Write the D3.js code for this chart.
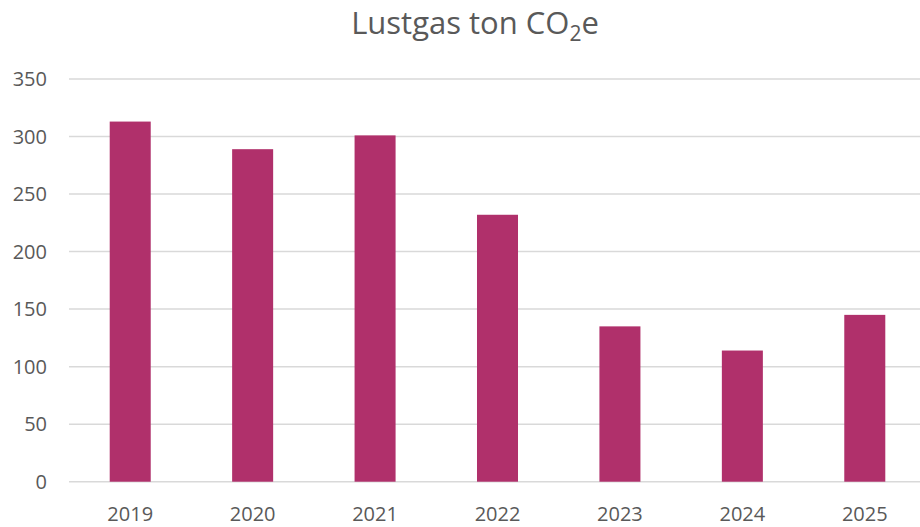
<!DOCTYPE html>
<html>
<head>
<meta charset="utf-8">
<script src="https://cdn.jsdelivr.net/npm/d3@7"></script>
<style>
  body { margin: 0; background: #fff; }
  svg { display: block; font-family: "Open Sans", "Liberation Sans", sans-serif; }
</style>
</head>
<body>
<svg id="chart"></svg>
<script>
let years = ['2019', '2020', '2021', '2022', '2023', '2024', '2025'];
let values = [313, 289, 301, 232, 135, 114, 145];
let yTicks = [0, 50, 100, 150, 200, 250, 300, 350];

let width = 920;
let height = 527;
let margin = {top: 79, right: -6, bottom: 45, left: 69};

let svg = d3.select('#chart')
    .attr('width', width)
    .attr('height', height);

let x = d3.scaleBand()
    .domain(years)
    .range([margin.left, width - margin.right])
    .paddingInner(0.665)
    .paddingOuter(0.3325);

let y = d3.scaleLinear()
    .domain([0, 350])
    .range([height - margin.bottom - 0.3, margin.top]);

// gridlines
svg.append('g')
    .selectAll('line')
    .data(yTicks)
    .join('line')
    .attr('x1', margin.left)
    .attr('x2', width)
    .attr('y1', d => y(d))
    .attr('y2', d => y(d))
    .attr('stroke', '#d9d9d9')
    .attr('stroke-width', 1.5);

// y labels
svg.append('g')
    .selectAll('text')
    .data(yTicks)
    .join('text')
    .attr('x', 47)
    .attr('y', d => y(d))
    .attr('dy', '0.35em')
    .attr('text-anchor', 'end')
    .attr('font-size', 20)
    .attr('fill', '#595959')
    .text(d => d);

// bars
svg.append('g')
    .selectAll('rect')
    .data(years)
    .join('rect')
    .attr('x', d => x(d))
    .attr('width', x.bandwidth())
    .attr('y', (d, i) => y(values[i]))
    .attr('height', (d, i) => y(0) - y(values[i]))
    .attr('fill', '#b0306b');

// x labels
svg.append('g')
    .selectAll('text')
    .data(years)
    .join('text')
    .attr('x', d => x(d) + x.bandwidth() / 2)
    .attr('y', 521)
    .attr('text-anchor', 'middle')
    .attr('font-size', 20)
    .attr('fill', '#595959')
    .text(d => d);

// title
let title = svg.append('text')
    .attr('x', 475)
    .attr('y', 34)
    .attr('text-anchor', 'middle')
    .attr('font-size', 31)
    .attr('fill', '#595959');
title.append('tspan').text('Lustgas ton CO');
title.append('tspan').attr('font-size', 21).attr('dy', 7).text('2');
title.append('tspan').attr('dy', -7).text('e');
</script>
</body>
</html>
